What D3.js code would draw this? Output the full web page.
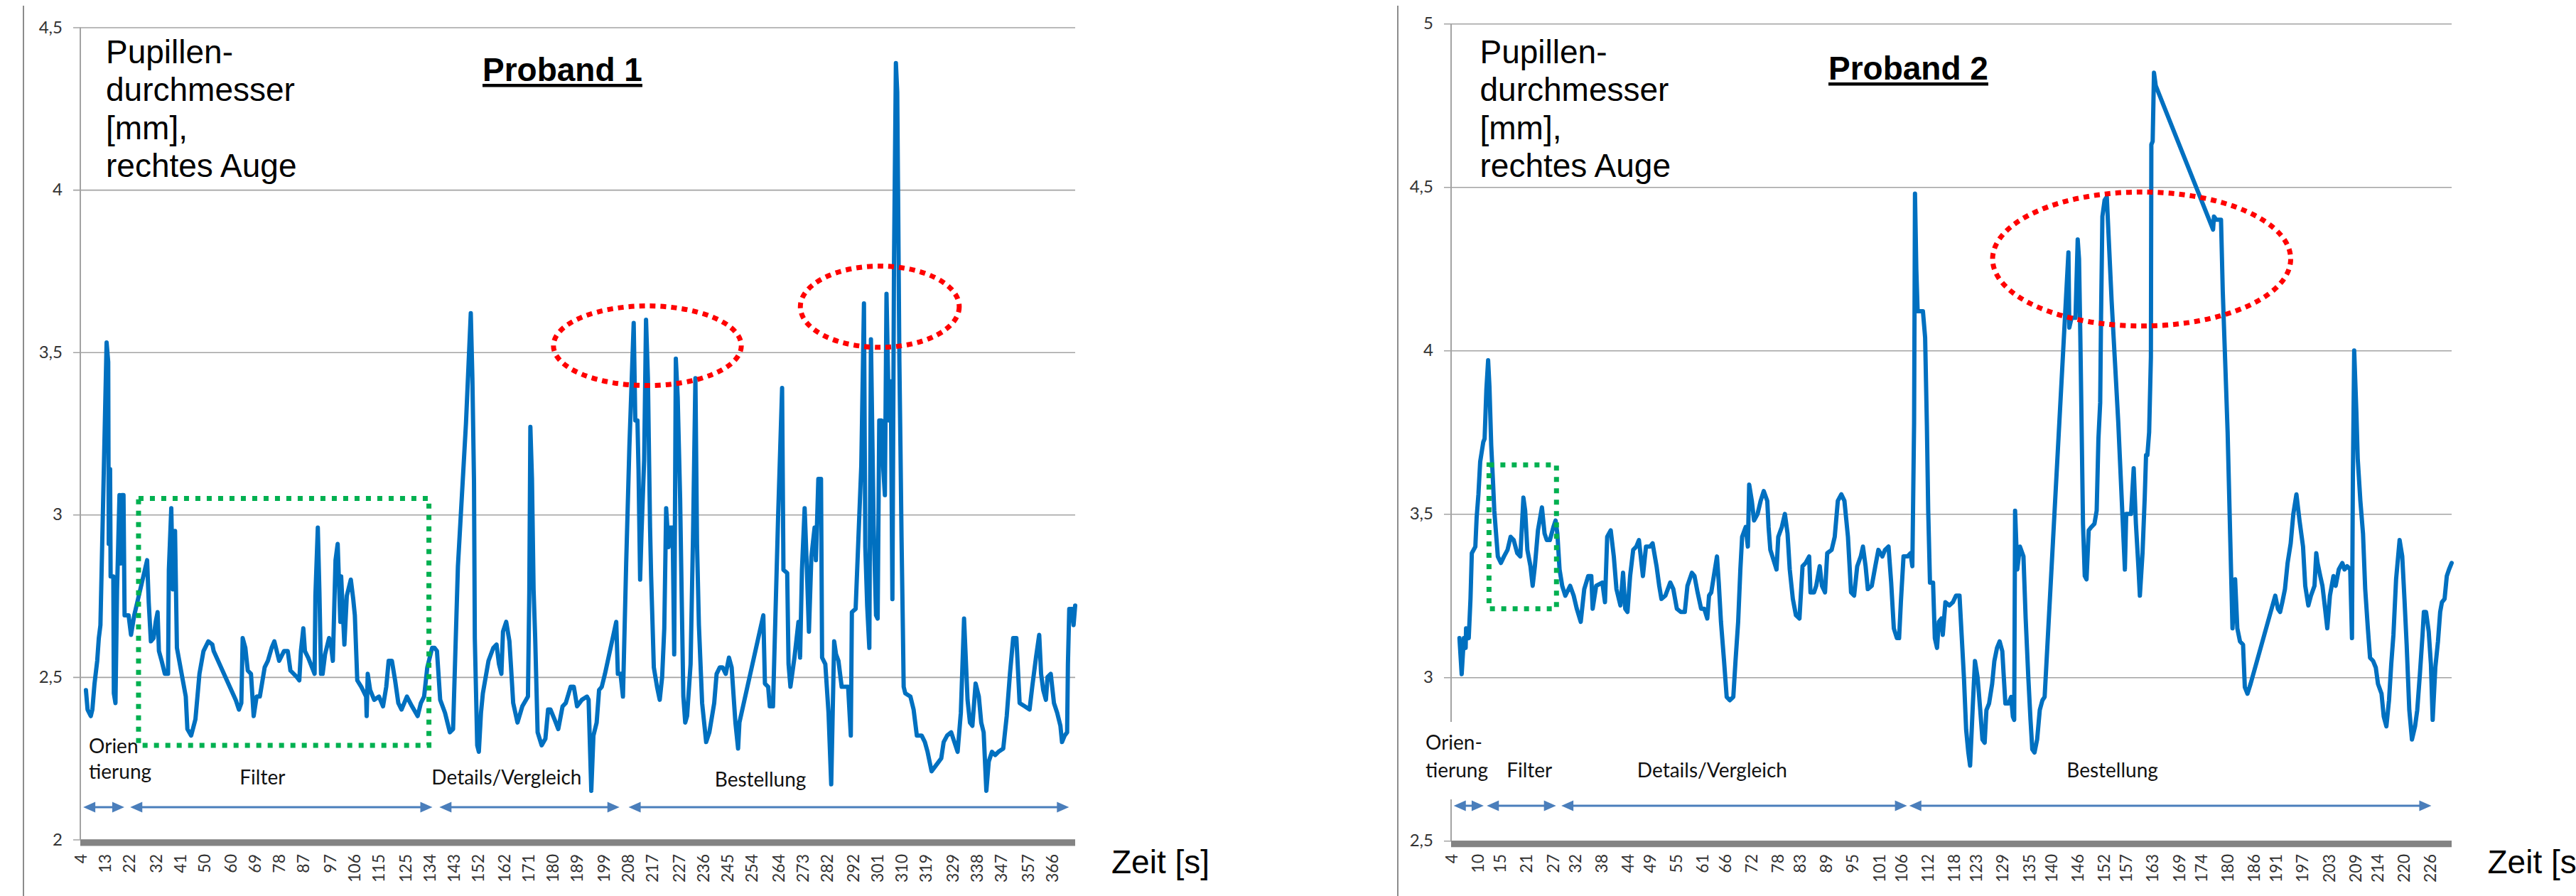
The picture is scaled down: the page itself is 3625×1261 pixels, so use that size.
<!DOCTYPE html>
<html>
<meta charset="utf-8">
<script src="https://d3js.org/d3.v7.min.js"></script>
<style>
body { margin: 0; background: #fff; }
svg { display: block; }
</style>
<body>
<div id="chartContainer"></div>
<script>
var WIDTH = 3625, HEIGHT = 1261;

// Proband 1 : Zeit [s] / Pupillendurchmesser [mm]
var p1Time = [6.1,6.7,7.9,8.5,9.3,10.3,10.9,11.5,12.4,13.8,14.4,14.6,15.1,15.3,16.3,16.5,17.1,17.7,18.6,19.0,19.5,20.1,20.5,22.0,22.9,24.1,
  28.9,29.5,30.3,31.3,32.1,32.8,33.3,34.3,35.5,36.7,37.0,37.9,38.5,39.3,40.0,43.3,43.9,45.3,46.9,48.4,49.9,51.7,53.2,53.7,
  61.9,63.1,64.0,64.5,65.5,66.4,67.6,68.6,69.7,70.9,72.7,73.9,75.3,76.3,78.1,79.9,81.3,82.3,84.7,85.6,86.2,87.1,87.7,88.9,
  91.3,91.6,92.5,93.1,93.7,94.3,95.2,96.7,97.4,98.1,99.1,99.9,100.9,101.2,102.4,103.3,104.8,105.7,106.3,107.2,108.7,110.5,
  110.7,111.1,112.0,113.5,115.3,116.8,118.0,118.9,120.1,121.3,122.5,123.7,125.7,127.6,129.7,130.9,132.1,133.3,135.1,136.0,
  136.9,138.1,139.9,141.7,142.9,144.7,147.7,149.5,150.1,150.7,151.0,151.9,152.5,153.3,154.0,156.1,157.9,159.1,160.0,160.9,
  161.5,162.7,163.9,164.5,165.3,166.9,168.7,170.8,171.3,171.7,172.3,172.9,173.5,174.4,175.9,177.3,178.3,179.2,180.7,182.1,
  183.7,184.9,186.7,187.9,189.1,190.9,192.8,193.4,194.4,195.2,196.4,197.3,198.3,199.5,203.7,204.3,205.3,206.2,207.4,208.6,
  210.2,210.8,211.6,212.0,212.6,213.1,214.1,214.8,215.5,216.3,216.7,217.7,218.9,219.9,220.8,221.6,222.3,223.2,223.8,224.7,
  225.3,225.9,226.6,227.5,228.1,228.7,229.4,230.1,231.4,232.3,233.2,233.8,234.5,235.7,237.2,238.4,240.2,241.1,242.3,243.3,
  244.5,245.7,246.7,248.1,249.1,249.6,258.5,259.1,260.3,260.9,262.1,264.0,265.5,266.0,267.4,267.9,268.6,270.1,271.6,272.2,
  272.9,273.9,274.7,275.5,276.4,277.6,278.1,279.0,280.0,280.4,281.6,282.8,283.8,284.9,285.6,286.5,287.7,290.1,291.1,291.5,
  292.9,295.0,296.0,296.5,297.2,298.0,298.6,299.6,300.5,301.1,301.7,302.5,303.2,303.8,304.4,305.3,306.0,306.6,307.2,307.9,
  308.4,308.8,309.2,309.6,310.0,310.5,310.8,311.4,313.3,314.5,315.7,317.5,318.7,319.7,321.2,323.0,324.8,325.7,327.0,328.5,
  329.7,330.9,332.1,333.3,334.6,335.5,336.4,337.6,338.8,339.7,340.6,341.6,342.5,343.7,344.9,346.1,347.9,349.2,350.4,351.6,
  352.8,354.0,355.9,357.7,358.7,360.1,361.3,362.0,362.8,363.8,364.4,365.6,366.8,368.0,369.2,369.8,370.8,371.7,372.0,372.5,
  373.5,374.1,374.7];
var p1Pupil = [2.46,2.40,2.38,2.40,2.48,2.55,2.62,2.66,3.00,3.53,3.47,2.91,3.14,2.81,2.81,2.45,2.42,2.77,3.06,2.85,3.06,3.06,2.69,2.69,2.63,2.69,
  2.86,2.73,2.61,2.62,2.67,2.70,2.58,2.55,2.51,2.51,2.83,3.02,2.77,2.95,2.59,2.44,2.34,2.32,2.37,2.51,2.58,2.61,2.60,2.58,
  2.43,2.40,2.42,2.62,2.59,2.52,2.51,2.38,2.44,2.44,2.53,2.55,2.59,2.61,2.55,2.58,2.58,2.52,2.50,2.49,2.58,2.65,2.58,2.56,
  2.51,2.75,2.96,2.76,2.51,2.51,2.57,2.62,2.60,2.55,2.86,2.91,2.67,2.81,2.60,2.75,2.80,2.74,2.69,2.49,2.47,2.44,
  2.38,2.51,2.46,2.43,2.44,2.41,2.47,2.55,2.55,2.49,2.42,2.40,2.44,2.41,2.38,2.42,2.44,2.53,2.59,2.59,
  2.58,2.43,2.39,2.33,2.34,2.84,3.28,3.62,3.42,3.10,2.62,2.29,2.27,2.39,2.45,2.55,2.59,2.60,2.54,2.51,
  2.64,2.67,2.61,2.53,2.42,2.36,2.41,2.44,2.76,3.27,3.11,2.77,2.62,2.33,2.29,2.31,2.40,2.40,2.37,2.34,
  2.41,2.42,2.47,2.47,2.41,2.43,2.44,2.43,2.15,2.32,2.36,2.46,2.47,2.51,2.67,2.51,2.51,2.44,2.85,3.21,
  3.59,3.29,3.29,3.14,2.80,2.94,3.17,3.60,3.42,2.96,2.81,2.53,2.47,2.43,2.50,2.65,3.02,2.90,2.96,2.96,
  2.57,3.48,3.36,3.05,2.74,2.44,2.36,2.38,2.54,2.93,3.42,2.91,2.66,2.42,2.30,2.33,2.42,2.51,2.53,2.53,
  2.51,2.56,2.53,2.36,2.28,2.36,2.69,2.48,2.47,2.41,2.41,2.99,3.39,2.83,2.82,2.54,2.47,2.56,2.67,2.56,
  2.83,3.02,2.84,2.64,2.87,2.96,2.86,3.11,3.11,2.56,2.54,2.39,2.17,2.61,2.57,2.55,2.47,2.47,2.32,2.70,
  2.71,3.15,3.65,2.90,2.72,2.59,3.54,2.97,2.69,2.68,3.29,3.29,3.14,3.06,3.68,3.29,3.41,2.74,3.78,4.39,
  4.30,3.90,3.47,3.21,2.93,2.65,2.47,2.45,2.44,2.40,2.32,2.32,2.30,2.27,2.21,2.23,2.25,2.30,2.32,2.33,
  2.30,2.27,2.39,2.68,2.43,2.36,2.35,2.48,2.44,2.36,2.33,2.15,2.24,2.27,2.26,2.27,2.28,2.38,2.51,2.62,
  2.62,2.42,2.41,2.40,2.47,2.56,2.63,2.51,2.46,2.43,2.50,2.51,2.42,2.39,2.35,2.30,2.32,2.33,2.54,2.71,
  2.71,2.66,2.72];
var p1Ticks = [4,13,22,32,41,50,60,69,78,87,97,106,115,125,134,143,152,162,171,180,
  189,199,208,217,227,236,245,254,264,273,282,292,301,310,319,329,338,347,357,366];
var p1YTicks = [2, 2.5, 3, 3.5, 4, 4.5];

// Proband 2
var p2Time = [5.9,6.4,6.9,7.3,7.4,8.0,8.4,8.7,9.5,9.8,10.2,10.6,11.3,11.6,12.0,12.4,12.7,13.1,13.5,13.8,14.6,15.3,16.0,16.8,17.5,18.2,
  19.0,19.7,20.4,20.8,21.3,22.0,22.5,23.0,23.7,24.6,25.2,25.7,26.4,27.2,27.7,28.1,28.6,29.2,29.9,31.0,31.8,32.5,33.4,34.2,
  35.1,35.8,36.1,36.9,38.3,38.9,39.4,40.2,40.9,41.5,42.4,43.0,43.5,44.0,44.6,45.3,46.0,46.6,47.5,48.2,49.1,49.7,50.6,51.2,
  51.7,52.6,53.7,54.4,55.2,56.1,57.0,57.6,58.6,59.2,59.9,60.7,61.4,62.1,62.5,63.0,63.7,64.3,64.7,65.2,65.9,66.5,67.2,68.0,
  68.5,69.1,69.6,70.0,70.8,71.3,71.6,72.2,72.7,73.5,74.2,74.9,75.7,76.0,76.4,77.1,77.8,78.2,79.0,79.7,80.3,80.8,81.5,82.2,
  83.0,83.7,84.4,85.2,85.5,86.3,86.8,87.6,88.1,88.8,89.3,90.3,91.0,91.7,92.5,93.2,94.0,94.7,95.4,96.1,96.9,97.4,98.0,98.5,
  99.4,100.2,100.9,101.8,102.4,103.2,103.8,104.4,105.1,105.6,106.0,106.6,107.5,108.2,108.6,109.0,109.2,109.5,109.8,111.0,
  111.5,111.9,112.2,112.6,113.3,113.7,114.2,114.6,115.2,115.5,116.1,117.0,117.8,118.5,119.3,119.7,120.3,120.8,121.3,121.7,
  122.3,122.8,123.4,124.0,124.5,125.0,125.4,126.0,126.7,127.2,127.8,128.4,129.0,129.3,129.7,130.4,131.0,131.4,131.7,131.9,
  132.4,133.0,133.8,134.3,134.9,135.4,135.8,136.3,136.9,137.5,138.1,138.6,139.0,144.0,144.2,144.7,145.6,146.1,146.4,146.7,
  147.3,147.7,148.1,148.6,149.2,149.9,150.4,150.8,151.2,151.4,151.7,152.2,152.7,153.8,155.3,156.8,157.1,158.2,158.8,159.3,
  159.9,160.2,160.8,161.3,161.6,161.9,162.3,162.7,162.8,163.1,163.4,163.8,176.8,177.0,177.5,178.6,179.0,180.1,181.2,181.8,
  182.3,182.9,183.6,184.0,184.6,185.3,190.9,191.5,192.0,192.5,193.1,193.7,194.4,195.0,195.7,196.4,197.2,197.7,198.4,199.0,
  199.8,200.2,200.5,201.1,201.6,202.2,202.7,203.3,204.1,204.6,205.3,206.1,206.6,207.2,207.9,208.3,208.5,208.8,209.3,209.6,
  210.2,210.8,211.3,211.9,212.4,213.1,213.7,214.2,215.0,215.5,216.1,216.7,217.2,217.7,218.3,219.1,219.7,220.2,220.7,221.3,
  221.9,222.6,223.1,223.7,224.3,224.6,225.1,225.7,226.2,226.6,227.2,227.8,228.3,228.7,229.3,229.8,230.3,230.9];
var p2Pupil = [3.12,3.01,3.12,3.09,3.15,3.12,3.24,3.38,3.40,3.49,3.56,3.66,3.72,3.73,3.88,3.97,3.89,3.71,3.60,3.51,3.37,3.35,3.37,3.39,3.43,3.42,
  3.38,3.37,3.55,3.51,3.39,3.34,3.28,3.34,3.45,3.52,3.44,3.42,3.42,3.46,3.48,3.44,3.33,3.28,3.25,3.28,3.25,3.21,3.17,3.27,
  3.31,3.31,3.21,3.28,3.29,3.23,3.43,3.45,3.37,3.27,3.22,3.32,3.21,3.20,3.31,3.39,3.40,3.42,3.31,3.40,3.40,3.41,3.34,3.28,
  3.24,3.25,3.29,3.27,3.21,3.20,3.20,3.28,3.32,3.31,3.26,3.21,3.21,3.18,3.25,3.26,3.32,3.37,3.29,3.17,3.05,2.94,2.93,2.94,
  3.05,3.17,3.33,3.43,3.46,3.40,3.59,3.54,3.48,3.50,3.54,3.57,3.54,3.46,3.39,3.36,3.33,3.43,3.46,3.50,3.44,3.33,3.24,3.19,
  3.18,3.34,3.35,3.37,3.26,3.26,3.28,3.34,3.28,3.26,3.38,3.39,3.43,3.54,3.56,3.54,3.43,3.26,3.25,3.34,3.37,3.40,3.34,3.27,
  3.28,3.34,3.39,3.37,3.39,3.40,3.29,3.15,3.12,3.12,3.23,3.37,3.37,3.38,3.34,3.78,4.48,4.25,4.12,4.12,
  4.04,3.77,3.51,3.29,3.29,3.12,3.09,3.17,3.18,3.13,3.23,3.22,3.23,3.25,3.25,3.15,3.00,2.84,2.77,2.73,
  2.91,3.05,3.00,2.90,2.81,2.80,2.90,2.92,2.98,3.05,3.09,3.11,3.08,3.01,2.92,2.92,2.94,2.88,2.87,3.51,
  3.33,3.40,3.37,3.18,3.00,2.87,2.78,2.77,2.81,2.90,2.93,2.94,3.04,4.30,4.07,4.10,4.10,4.34,4.28,4.04,
  3.47,3.31,3.30,3.45,3.46,3.47,3.51,3.73,3.84,4.11,4.41,4.46,4.47,4.15,3.78,3.33,3.50,3.50,3.64,3.47,
  3.33,3.25,3.38,3.55,3.68,3.68,3.75,3.98,4.63,4.64,4.85,4.81,4.37,4.41,4.40,4.40,4.18,3.75,3.15,3.30,
  3.15,3.11,3.10,2.97,2.95,2.98,3.25,3.21,3.20,3.23,3.27,3.35,3.41,3.50,3.56,3.48,3.40,3.28,3.22,3.25,
  3.28,3.38,3.35,3.31,3.28,3.21,3.15,3.25,3.31,3.28,3.33,3.35,3.33,3.34,3.33,3.12,3.61,4.00,3.81,3.67,
  3.54,3.44,3.27,3.15,3.06,3.05,3.03,2.98,2.95,2.88,2.85,2.93,3.04,3.13,3.30,3.42,3.37,3.24,3.10,2.90,
  2.81,2.85,2.90,3.01,3.13,3.20,3.20,3.14,3.04,2.87,3.03,3.11,3.20,3.23,3.24,3.31,3.33,3.35];
var p2Ticks = [4,10,15,21,27,32,38,44,49,55,61,66,72,78,83,89,95,101,106,112,
  118,123,129,135,140,146,152,157,163,169,174,180,186,191,197,203,209,214,220,226];
var p2YTicks = [2.5, 3, 3.5, 4, 4.5, 5];

// Phasen (Pfeile von/bis in s, Beschriftung ab s)
var p1PhaseFrom = [5.1, 22.6, 137.8, 208.3];
var p1PhaseTo = [20.4, 135.2, 204.9, 372.4];
var p1LabelAt = [7.2, 63.4, 134.9, 240.4];
var p1PhaseLabels = [["Orien", "tierung"], ["Filter"], ["Details/Vergleich"], ["Bestellung"]];
var p2PhaseFrom = [4.6, 12.1, 29.0, 107.9];
var p2PhaseTo = [11.4, 27.8, 107.4, 226.3];
var p2LabelAt = [-1.8, 16.6, 46.2, 143.6];
var p2PhaseLabels = [["Orien-", "tierung"], ["Filter"], ["Details/Vergleich"], ["Bestellung"]];

// Markierungen: Rechteck [t0, t1, v0, v1], Ellipsen Mitte (s, mm) und Halbachsen
var p1Box = [25.7, 133.9, 2.29, 3.05];
var p1EllTime = [215.3, 301.9], p1EllPupil = [3.52, 3.64], p1EllDt = [35.0, 29.6], p1EllDv = [0.1225, 0.125];
var p2Box = [12.6, 27.9, 3.21, 3.65];
var p2EllTime = [160.6], p2EllPupil = [4.28], p2EllDt = [33.8], p2EllDv = [0.205];

var noteLines = ["Pupillen-", "durchmesser", "[mm],", "rechtes Auge"];

var svg = d3.select("#chartContainer").append("svg")
    .attr("width", WIDTH).attr("height", HEIGHT);
svg.append("rect").attr("width", WIDTH).attr("height", HEIGHT).attr("fill", "#fff");

var ARROW = "#4a7ebb";
var TICKFONT = "Lato, 'Open Sans', sans-serif";

function arrow(g, x1, x2, yy) {
  var hl = 17, hw = 7.5;
  g.append("line").attr("x1", x1 + hl - 2).attr("x2", x2 - hl + 2)
    .attr("y1", yy).attr("y2", yy)
    .attr("stroke", ARROW).attr("stroke-width", 3);
  g.append("path").attr("fill", ARROW)
    .attr("d", "M" + x1 + "," + yy + "L" + (x1 + hl) + "," + (yy - hw) + "L" + (x1 + hl) + "," + (yy + hw) + "Z");
  g.append("path").attr("fill", ARROW)
    .attr("d", "M" + x2 + "," + yy + "L" + (x2 - hl) + "," + (yy - hw) + "L" + (x2 - hl) + "," + (yy + hw) + "Z");
}

function drawPanel(p) {
  var x = d3.scaleLinear().domain([4, p.time[p.time.length - 1]]).range([p.left, p.right]);
  var y = d3.scaleLinear().domain([p.yTicks[0], p.yTicks[p.yTicks.length - 1]]).range([p.bottom, p.top]);
  var g = svg.append("g");

  // outer frame edge
  g.append("line").attr("x1", p.frameX).attr("x2", p.frameX).attr("y1", 8).attr("y2", HEIGHT)
    .attr("stroke", "#8c8c8c").attr("stroke-width", 2);

  // gridlines and y labels
  var yAxis = g.append("g").attr("transform", "translate(" + p.right + ",0)")
    .call(d3.axisLeft(y).tickValues(p.yTicks).tickSize(p.right - p.left + 10).tickPadding(15)
      .tickFormat(function (d) { return String(d).replace(".", ","); }));
  yAxis.select(".domain").remove();
  yAxis.selectAll("line").attr("stroke", "#a3a3a3").attr("stroke-width", 1.6);
  yAxis.selectAll("text").attr("fill", "#333")
    .style("font-family", TICKFONT).style("font-size", "24px");

  g.append("line").attr("x1", p.left).attr("x2", p.left).attr("y1", p.top).attr("y2", p.bottom)
    .attr("stroke", "#a3a3a3").attr("stroke-width", 2);

  // x axis: thick bar + rotated labels
  var xAxis = g.append("g").attr("transform", "translate(0," + p.bottom + ")")
    .call(d3.axisBottom(x).tickValues(p.xTicks).tickSize(0));
  xAxis.select(".domain").remove();
  xAxis.selectAll("text")
    .attr("transform", "rotate(-90)")
    .attr("x", -(1202 - p.bottom)).attr("y", 0).attr("dy", "0.36em")
    .style("text-anchor", "end").attr("fill", "#333")
    .style("font-family", TICKFONT).style("font-size", "23px");
  g.append("line").attr("x1", p.left).attr("x2", p.right)
    .attr("y1", p.bottom + 4.5).attr("y2", p.bottom + 4.5)
    .attr("stroke", "#838383").attr("stroke-width", 9);

  // white box behind the Orientierung label
  if (p.labelBox) {
    g.append("rect").attr("x", p.labelBox[0]).attr("y", p.labelBox[1])
      .attr("width", p.labelBox[2]).attr("height", p.labelBox[3]).attr("fill", "#fff");
  }

  // data line
  var line = d3.line()
    .x(function (i) { return x(p.time[i]); })
    .y(function (i) { return y(p.pupil[i]); });
  g.append("path").datum(d3.range(p.time.length))
    .attr("d", line).attr("fill", "none")
    .attr("stroke", "#0070c0").attr("stroke-width", 6)
    .attr("stroke-linejoin", "round").attr("stroke-linecap", "round");

  // highlights
  g.append("rect")
    .attr("x", x(p.box[0])).attr("y", y(p.box[3]))
    .attr("width", x(p.box[1]) - x(p.box[0])).attr("height", y(p.box[2]) - y(p.box[3]))
    .attr("fill", "none").attr("stroke", "#00b050").attr("stroke-width", 7)
    .attr("stroke-dasharray", "7 9");
  p.ellTime.forEach(function (t, i) {
    g.append("ellipse")
      .attr("cx", x(t)).attr("cy", y(p.ellPupil[i]))
      .attr("rx", x(t + p.ellDt[i]) - x(t)).attr("ry", y(p.ellPupil[i] - p.ellDv[i]) - y(p.ellPupil[i]))
      .attr("fill", "none").attr("stroke", "#ff0000").attr("stroke-width", 7)
      .attr("stroke-dasharray", "8 7");
  });

  // phases
  p.phaseFrom.forEach(function (t, i) {
    arrow(g, x(t), x(p.phaseTo[i]), p.arrowY);
    p.phaseLabels[i].forEach(function (s, j) {
      g.append("text").attr("x", x(p.labelAt[i])).attr("y", p.labelBase[i][j])
        .style("font-family", TICKFONT).style("font-size", "28px")
        .attr("fill", "#111").text(s);
    });
  });

  // texts
  noteLines.forEach(function (s, i) {
    g.append("text").attr("x", p.noteX).attr("y", 89 + i * 53.3)
      .style("font-family", "'Liberation Sans', Arial, sans-serif").style("font-size", "46px")
      .attr("fill", "#000").text(s);
  });
  var title = g.append("text").attr("x", p.titleX).attr("y", p.titleY)
    .style("font-family", "'Liberation Sans', Arial, sans-serif").style("font-size", "46px")
    .style("font-weight", "bold").attr("fill", "#000").text(p.title);
  var tw = title.node().getComputedTextLength();
  g.append("rect").attr("x", p.titleX).attr("y", p.titleY + 4).attr("width", tw).attr("height", 4.5)
    .attr("fill", "#000");
  g.append("text").attr("x", p.zeitX).attr("y", 1229)
    .style("font-family", "'Liberation Sans', Arial, sans-serif").style("font-size", "46px")
    .attr("fill", "#000").text("Zeit [s]");
}

drawPanel({
  time: p1Time, pupil: p1Pupil, xTicks: p1Ticks, yTicks: p1YTicks,
  left: 113, right: 1513, top: 38.5, bottom: 1181.5, frameX: 33,
  title: "Proband 1", titleX: 679, titleY: 114, noteX: 149, zeitX: 1564,
  phaseFrom: p1PhaseFrom, phaseTo: p1PhaseTo, labelAt: p1LabelAt, phaseLabels: p1PhaseLabels,
  labelBase: [[1060, 1096], [1104], [1104], [1107]], arrowY: 1136,
  box: p1Box, ellTime: p1EllTime, ellPupil: p1EllPupil, ellDt: p1EllDt, ellDv: p1EllDv
});

drawPanel({
  time: p2Time, pupil: p2Pupil, xTicks: p2Ticks, yTicks: p2YTicks,
  left: 2042, right: 3450, top: 33.3, bottom: 1183.3, frameX: 1967,
  title: "Proband 2", titleX: 2573, titleY: 112, noteX: 2082.5, zeitX: 3500.5,
  phaseFrom: p2PhaseFrom, phaseTo: p2PhaseTo, labelAt: p2LabelAt, phaseLabels: p2PhaseLabels,
  labelBase: [[1055, 1094], [1094], [1094], [1094]], arrowY: 1134,
  labelBox: [2000, 1016, 95, 109],
  box: p2Box, ellTime: p2EllTime, ellPupil: p2EllPupil, ellDt: p2EllDt, ellDv: p2EllDv
});
</script>
</body>
</html>
